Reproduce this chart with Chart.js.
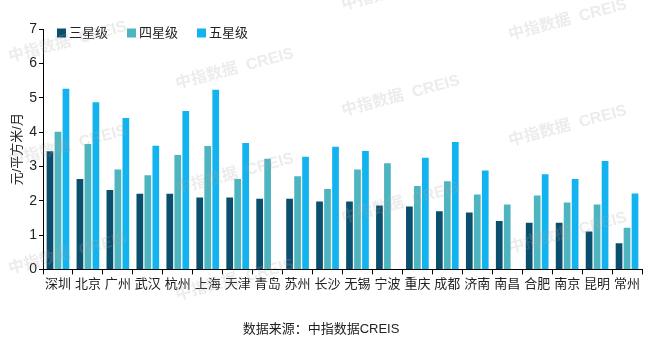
<!DOCTYPE html>
<html>
<head>
<meta charset="utf-8">
<script src="https://cdn.jsdelivr.net/npm/chart.js@4"></script>
<style>
html,body{margin:0;padding:0;background:#fff;}
#wrap{width:660px;height:357px;position:relative;}
</style>
</head>
<body>
<div id="wrap"><canvas id="c" width="660" height="357"></canvas></div>
<script>
const categories = ["深圳","北京","广州","武汉","杭州","上海","天津","青岛","苏州","长沙","无锡","宁波","重庆","成都","济南","南昌","合肥","南京","昆明","常州"];
const threeStar = [3.44,2.63,2.31,2.20,2.20,2.09,2.09,2.06,2.06,1.98,1.98,1.86,1.83,1.69,1.66,1.41,1.36,1.36,1.10,0.76];
const fourStar  = [4.01,3.65,2.91,2.74,3.33,3.59,2.63,3.22,2.71,2.34,2.91,3.09,2.43,2.57,2.18,1.89,2.15,1.95,1.89,1.21];
const fiveStar  = [5.26,4.87,4.41,3.60,4.61,5.23,3.68,null,3.28,3.57,3.45,null,3.25,3.71,2.88,null,2.77,2.63,3.16,2.21];
const seriesNames = ["三星级","四星级","五星级"];
const seriesColors = ["#0b4f6e","#4db5c0","#12b3ee"];
const yTicks = [0,1,2,3,4,5,6,7];
const yTitle = "元/平方米/月";
const sourceText = "数据来源：中指数据CREIS";
const watermark = "中指数据  CREIS";

const FONT = "'Liberation Sans','Noto Sans CJK SC',sans-serif";

const customLegend = {
  id: 'customLegend',
  afterDraw(chart) {
    const ctx = chart.ctx;
    const area = chart.chartArea;
    ctx.save();
    ctx.font = "13px " + FONT;
    ctx.textBaseline = 'middle';
    ctx.textAlign = 'left';
    let x = area.left + 14;
    const y = area.top + 4;
    chart.data.datasets.forEach(ds => {
      ctx.fillStyle = ds.backgroundColor;
      ctx.fillRect(x, y - 4.5, 9, 9);
      ctx.fillStyle = '#222';
      ctx.fillText(ds.label, x + 12, y);
      x += 12 + ctx.measureText(ds.label).width + 19;
    });
    ctx.restore();
  }
};

const watermarkPlugin = {
  id: 'watermarkPlugin',
  afterDraw(chart) {
    const ctx = chart.ctx;
    const spots = [[10,62],[10,166],[10,274],[177,89],[177,194],[177,300],[343,10],[343,116],[343,223],[510,40],[510,146],[510,253]];
    ctx.save();
    ctx.font = "bold 16px " + FONT;
    ctx.fillStyle = 'rgba(170,170,170,0.22)';
    ctx.textBaseline = 'alphabetic';
    spots.forEach(p => {
      ctx.save();
      ctx.translate(p[0], p[1]);
      ctx.rotate(-15 * Math.PI / 180);
      ctx.fillText(watermark, 0, 0);
      ctx.restore();
    });
    ctx.restore();
  }
};

new Chart(document.getElementById('c'), {
  type: 'bar',
  data: {
    labels: categories,
    datasets: [
      {label: seriesNames[0], data: threeStar, backgroundColor: seriesColors[0]},
      {label: seriesNames[1], data: fourStar, backgroundColor: seriesColors[1]},
      {label: seriesNames[2], data: fiveStar, backgroundColor: seriesColors[2]}
    ]
  },
  options: {
    responsive: false,
    animation: false,
    devicePixelRatio: 1,
    layout: {padding: {left: 0, right: 18, top: 29, bottom: 0}},
    datasets: {bar: {categoryPercentage: 0.8, barPercentage: 0.84}},
    plugins: {
      legend: {display: false},
      tooltip: {enabled: false},
      title: {
        display: true,
        position: 'bottom',
        text: sourceText,
        color: '#222',
        font: {family: FONT, size: 13, weight: 'normal'},
        padding: {top: 0, bottom: 20}
      }
    },
    scales: {
      x: {
        grid: {display: true, drawOnChartArea: false, drawTicks: true, tickLength: 5, color: '#000', offset: true},
        border: {display: true, color: '#000', width: 1},
        ticks: {color: '#222', font: {family: FONT, size: 13}, padding: 2, maxRotation: 0, autoSkip: false},
        afterFit(scale) { scale.height = 52; }
      },
      y: {
        min: 0, max: 7,
        afterBuildTicks(scale) { scale.ticks = yTicks.map(v => ({value: v})); },
        grid: {display: true, drawOnChartArea: false, drawTicks: true, tickLength: 4, color: '#000'},
        border: {display: true, color: '#000', width: 1},
        ticks: {color: '#222', font: {family: FONT, size: 14}, padding: 2},
        title: {display: true, text: yTitle, color: '#222', font: {family: FONT, size: 13}, padding: {top: 10, bottom: 0}},
        afterFit(scale) { scale.width = 43; }
      }
    }
  },
  plugins: [customLegend, watermarkPlugin]
});
</script>
</body>
</html>
